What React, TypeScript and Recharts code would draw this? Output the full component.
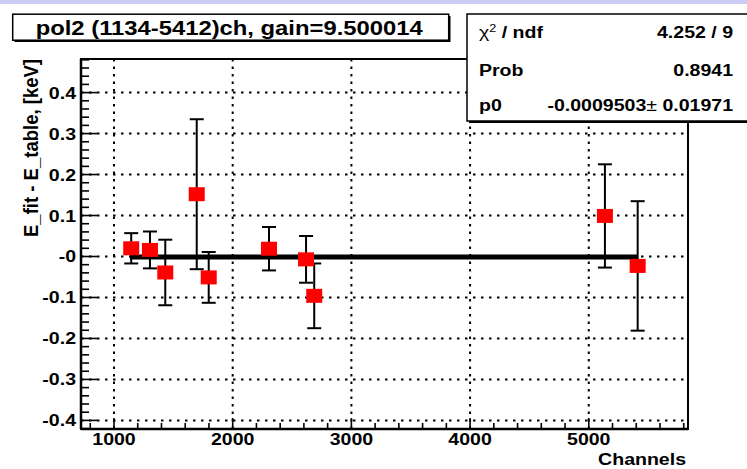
import React from "react";
import {
  ComposedChart,
  Scatter,
  XAxis,
  YAxis,
  ErrorBar,
  ReferenceLine,
  ReferenceArea,
} from "recharts";

// calibration residuals
const channels = [1145, 1303, 1432, 1697, 1798, 2306, 2618, 2687, 5136, 5412];
const residuals = [0.02, 0.016, -0.039, 0.152, -0.051, 0.019, -0.007, -0.096, 0.099, -0.023];
const errors = [0.037, 0.045, 0.08, 0.183, 0.062, 0.053, 0.057, 0.079, 0.126, 0.158];

const xMajor = [1000, 2000, 3000, 4000, 5000];
const xAllTicks = Array.from({ length: 26 }, (_, i) => 800 + i * 200);
const yMajor = [-0.4, -0.3, -0.2, -0.1, 0, 0.1, 0.2, 0.3, 0.4];
const yLabels = ["-0.4", "-0.3", "-0.2", "-0.1", "-0", "0.1", "0.2", "0.3", "0.4"];
const yAllTicks = Array.from({ length: 46 }, (_, i) => Math.round((-0.42 + i * 0.02) * 100) / 100);

const fitRange = [1134, 5412];
const fitP0 = -0.0009503;

const titleText = "pol2 (1134-5412)ch, gain=9.500014";
const statNames = ["χ² / ndf", "Prob", "p0"];
const statValues = ["4.252 / 9", "0.8941", "-0.0009503 ± 0.01971"];

const X_DOMAIN: [number, number] = [722, 5836];
const Y_DOMAIN: [number, number] = [-0.421, 0.482];

const FONT = "'Liberation Sans', Arial, Helvetica, sans-serif";
const SX = 1.15;

const data = channels.map((x, i) => ({ x, y: residuals[i], err: errors[i] }));

const XTick = (props: any) => {
  const { x, y, payload } = props;
  const v = payload.value;
  const major = xMajor.includes(v);
  const y0 = y - 4;
  return (
    <g>
      <line x1={x} x2={x} y1={y0} y2={y0 - (major ? 11 : 6)} stroke="#000" strokeWidth={1.6} />
      {major && (
        <text
          transform={`translate(${x},${y0 + 16}) scale(${SX},1)`}
          textAnchor="middle"
          fontFamily={FONT}
          fontWeight="bold"
          fontSize={17}
          fill="#000"
        >
          {v}
        </text>
      )}
    </g>
  );
};

const YTick = (props: any) => {
  const { x, y, payload } = props;
  const v = payload.value;
  const idx = yMajor.findIndex((m) => Math.abs(m - v) < 1e-9);
  const major = idx >= 0;
  return (
    <g>
      <line x1={x} x2={x + (major ? 16 : 8)} y1={y} y2={y} stroke="#000" strokeWidth={1.6} />
      {major && (
        <text
          transform={`translate(${x - 5},${y + 6}) scale(${SX},1)`}
          textAnchor="end"
          fontFamily={FONT}
          fontWeight="bold"
          fontSize={17}
          fill="#000"
        >
          {yLabels[idx]}
        </text>
      )}
    </g>
  );
};

const Square = (p: any) => (
  <rect x={p.cx - 8} y={p.cy - 7} width={16} height={14} fill="#ff0000" />
);

const rowY = [38, 76, 111];

export default function App() {
  return (
    <div style={{ position: "fixed", left: 0, top: 0, width: 747, height: 469, background: "#fff", overflow: "hidden" }}>
      <div style={{ position: "absolute", left: 0, top: 0, width: 747, height: 4, background: "#ccccf5" }} />
      <ComposedChart width={747} height={469} margin={{ top: 59, right: 59, bottom: 10, left: 21 }}>
        <XAxis
          dataKey="x"
          type="number"
          domain={X_DOMAIN}
          allowDataOverflow
          ticks={xAllTicks}
          interval={0}
          tickSize={0}
          tickMargin={4}
          tickLine={false}
          height={30}
          axisLine={{ stroke: "#000", strokeWidth: 2.5 }}
          tick={XTick}
        />
        <YAxis
          dataKey="y"
          type="number"
          domain={Y_DOMAIN}
          allowDataOverflow
          ticks={yAllTicks}
          interval={0}
          tickSize={0}
          tickMargin={0}
          tickLine={false}
          width={60}
          axisLine={{ stroke: "#000", strokeWidth: 2.5 }}
          tick={YTick}
        />
        <ReferenceArea
          x1={X_DOMAIN[0]}
          x2={X_DOMAIN[1]}
          y1={Y_DOMAIN[0]}
          y2={Y_DOMAIN[1]}
          fill="none"
          fillOpacity={0}
          stroke="#000"
          strokeWidth={2}
        />
        {xMajor.map((v) => (
          <ReferenceLine key={`gx${v}`} x={v} stroke="#000" strokeWidth={2} strokeDasharray="2.5 5" />
        ))}
        {yMajor.map((v) => (
          <ReferenceLine key={`gy${v}`} y={v} stroke="#000" strokeWidth={2} strokeDasharray="2.5 5.5" />
        ))}
        <ReferenceLine
          segment={[
            { x: fitRange[0], y: fitP0 },
            { x: fitRange[1], y: fitP0 },
          ]}
          stroke="#000"
          strokeWidth={5}
        />
        <Scatter data={data} shape={Square} isAnimationActive={false}>
          <ErrorBar dataKey="err" direction="y" width={7} stroke="#000" strokeWidth={2} />
        </Scatter>
      </ComposedChart>

      <svg width={747} height={469} style={{ position: "absolute", left: 0, top: 0, pointerEvents: "none" }}>
        {/* title pave */}
        <rect x={14.5} y={16} width={436} height={26} fill="#000" />
        <rect x={12.7} y={14.2} width={436} height={26} fill="#fff" stroke="#000" strokeWidth={1.5} />
        <text
          x={35.7}
          y={34.5}
          fontFamily={FONT}
          fontWeight="bold"
          fontSize={20}
          textLength={387}
          lengthAdjust="spacingAndGlyphs"
        >
          {titleText}
        </text>

        {/* stats box */}
        <rect x={469} y={16} width={300} height={107} fill="#000" />
        <rect x={467} y={14} width={300} height={107} fill="#fff" stroke="#000" strokeWidth={1.5} />
        {statNames.map((n, i) => (
          <text
            key={n}
            transform={`translate(479,${rowY[i]}) scale(${SX},1)`}
            fontFamily={FONT}
            fontWeight="bold"
            fontSize={17}
          >
            {i === 0 ? (
              <>
                <tspan fontWeight="normal">χ</tspan>
                <tspan fontWeight="normal" fontSize={11} dy={-6}>2</tspan>
                <tspan dy={6}> / ndf</tspan>
              </>
            ) : (
              n
            )}
          </text>
        ))}
        {statValues.map((v, i) => (
          <text
            key={v}
            transform={`translate(733,${rowY[i]}) scale(${SX},1)`}
            textAnchor="end"
            fontFamily={FONT}
            fontWeight="bold"
            fontSize={17}
          >
            {i === 2 ? (
              <>
                <tspan>{v.split(" ± ")[0]}</tspan>
                <tspan fontWeight="normal">±</tspan>
                <tspan> {v.split(" ± ")[1]}</tspan>
              </>
            ) : (
              v
            )}
          </text>
        ))}

        {/* axis titles */}
        <text
          transform="translate(37.5,237) rotate(-90) scale(1,1.15)"
          fontFamily={FONT}
          fontWeight="bold"
          fontSize={18}
          textLength={178}
          lengthAdjust="spacingAndGlyphs"
        >
          E_fit - E_table, [keV]
        </text>
        <text
          transform={`translate(686,465) scale(${SX},1)`}
          textAnchor="end"
          fontFamily={FONT}
          fontWeight="bold"
          fontSize={17}
        >
          Channels
        </text>
      </svg>
    </div>
  );
}
